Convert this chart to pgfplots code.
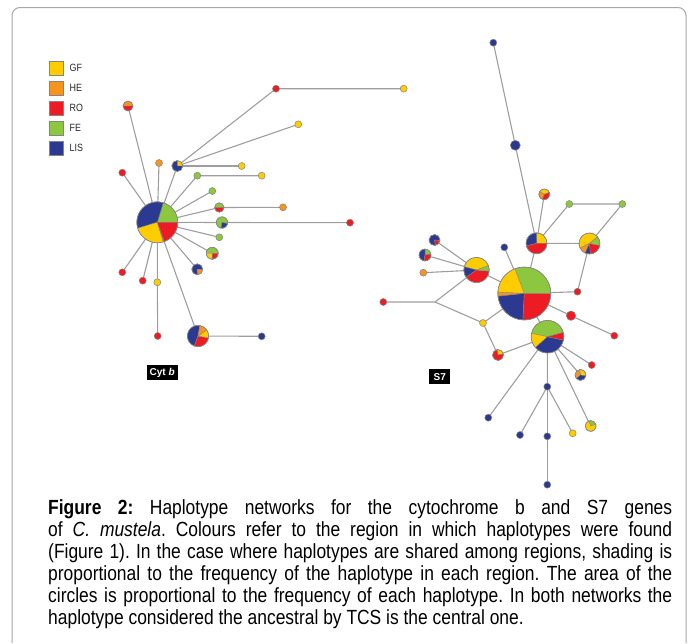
\documentclass[border=0pt]{standalone}
\usepackage{pgfplots}
\pgfplotsset{compat=1.18}
\usepackage{fontspec}
\setmainfont{Liberation Sans}
\newfontfamily\narrowfont{Liberation Sans}[FakeStretch=0.85]
\definecolor{cY}{HTML}{FFCC00}
\definecolor{cO}{HTML}{F7941E}
\definecolor{cR}{HTML}{ED1C24}
\definecolor{cG}{HTML}{8DC63F}
\definecolor{cB}{HTML}{2B3990}
\definecolor{lnc}{HTML}{9E9E9E}
\definecolor{edc}{HTML}{858585}
\definecolor{brd}{HTML}{A8A8A8}
\tikzset{wedge/.code 2 args={\def\wedgeA{#1}\def\wedgeB{#2}}}
\def\wedgeA{0}\def\wedgeB{360}
\pgfdeclareplotmark{wedge}{%
  \pgfpathmoveto{\pgfpointorigin}%
  \pgfpathlineto{\pgfpointpolar{\wedgeA}{\pgfplotmarksize}}%
  \pgfpatharc{\wedgeA}{\wedgeB}{\pgfplotmarksize}%
  \pgfpathclose
  \pgfusepathqfillstroke}
% wedge: x, y, radius, colour, from, to
\newcommand{\wdg}[6]{\addplot[only marks, mark=wedge, mark size=#3,
  mark options={wedge={#5}{#6}, fill=#4, draw=edc, line width=0.35pt}] coordinates {(#1,#2)};}
% full node: x, y, radius, colour
\newcommand{\nd}[4]{\addplot[only marks, mark=*, mark size=#3,
  mark options={fill=#4, draw=edc, line width=0.5pt}] coordinates {(#1,#2)};}
% outline ring of a pie
\newcommand{\ring}[3]{\addplot[only marks, mark=o, mark size=#3,
  mark options={draw=edc, line width=0.6pt}] coordinates {(#1,#2)};}
\pgfplotsset{edge/.style={color=lnc, line width=1.1pt, no marks}}
\begin{document}
\begin{tikzpicture}
\begin{axis}[width=694pt, height=643pt, scale only axis,
  xmin=0, xmax=694, ymin=0, ymax=643, y dir=reverse,
  hide axis, clip=false]
\path (axis cs:0,0) rectangle (axis cs:694,643);
% frame
\draw[brd, line width=1pt, rounded corners=8pt]
  (axis cs:12,643) -- (axis cs:12,7.5) -- (axis cs:686,7.5) -- (axis cs:686,643);
% ---------------- Cyt b edges
\addplot[edge] coordinates {(157.3,222.3) (128,106)};
\addplot[edge] coordinates {(157.3,222.3) (159,163)};
\addplot[edge] coordinates {(157.3,222.3) (177.3,166)};
\addplot[edge] coordinates {(177.3,166) (276,88.7) (403.7,88.7)};
\addplot[edge] coordinates {(177.3,166) (298.3,124.3)};
\addplot[edge] coordinates {(177.3,166) (241.7,166)};
\addplot[edge] coordinates {(157.3,222.3) (122.3,172.7)};
\addplot[edge] coordinates {(157.3,222.3) (197.3,175.7) (261.7,175.7)};
\addplot[edge] coordinates {(157.3,222.3) (212.3,191)};
\addplot[edge] coordinates {(157.3,222.3) (219.3,207.5) (283,207.3)};
\addplot[edge] coordinates {(157.3,222.3) (222,222.5) (350,222.7)};
\addplot[edge] coordinates {(157.3,222.3) (219.3,237.3)};
\addplot[edge] coordinates {(157.3,222.3) (212.3,253.3)};
\addplot[edge] coordinates {(157.3,222.3) (197.3,269.3)};
\addplot[edge] coordinates {(157.3,222.3) (198,336) (261.7,336.3)};
\addplot[edge] coordinates {(157.3,222.3) (157.3,282.3) (157.7,336)};
\addplot[edge] coordinates {(157.3,222.3) (142.7,280.7)};
\addplot[edge] coordinates {(157.3,222.3) (122.3,272.3)};
% ---------------- S7 edges
\addplot[edge] coordinates {(493.3,42.7) (515.3,145.3) (536.5,243.3)};
\addplot[edge] coordinates {(544.3,194.3) (536.5,243.3)};
\addplot[edge] coordinates {(536.5,243.3) (569.3,204) (622.3,204) (589.5,243.5)};
\addplot[edge] coordinates {(536.5,243.3) (589.5,243.5)};
\addplot[edge] coordinates {(536.5,243.3) (524.3,293.5)};
\addplot[edge] coordinates {(504.3,247.3) (524.3,293.5)};
\addplot[edge] coordinates {(589.5,243.5) (577.5,291.7) (524.3,293.5)};
\addplot[edge] coordinates {(434.5,240) (476.5,270)};
\addplot[edge] coordinates {(425,255) (476.5,270)};
\addplot[edge] coordinates {(423.3,272.7) (476.5,270)};
\addplot[edge] coordinates {(476.5,270) (524.3,293.5)};
\addplot[edge] coordinates {(383.3,302) (435,302) (476.5,270)};
\addplot[edge] coordinates {(435,302) (483,323) (524.3,293.5)};
\addplot[edge] coordinates {(483,323) (498,355) (547.5,336.7)};
\addplot[edge] coordinates {(524.3,293.5) (547.5,336.7)};
\addplot[edge] coordinates {(524.3,293.5) (571,315.7) (614.3,335.7)};
\addplot[edge] coordinates {(547.5,336.7) (591.7,365)};
\addplot[edge] coordinates {(547.5,336.7) (580.5,375)};
\addplot[edge] coordinates {(547.5,336.7) (590.7,426)};
\addplot[edge] coordinates {(547.5,336.7) (547.3,386.7)};
\addplot[edge] coordinates {(547.5,336.7) (488.3,417.7)};
\addplot[edge] coordinates {(547.3,386.7) (520,435)};
\addplot[edge] coordinates {(547.3,386.7) (547.3,436.3) (547.3,484.7)};
\addplot[edge] coordinates {(547.3,386.7) (572.7,433.3)};
% ---------------- Cyt b nodes
\wdg{157.3}{222.3}{20.5}{cG}{0}{73}
\wdg{157.3}{222.3}{20.5}{cB}{73}{197}
\wdg{157.3}{222.3}{20.5}{cY}{197}{287}
\wdg{157.3}{222.3}{20.5}{cO}{287}{290}
\wdg{157.3}{222.3}{20.5}{cR}{290}{360}
\ring{157.3}{222.3}{20.5}
\wdg{128}{106}{5}{cO}{0}{180}
\wdg{128}{106}{5}{cR}{180}{360}
\ring{128}{106}{5}
\nd{159}{163}{3.5}{cO}
\wdg{177.3}{166}{5.5}{cY}{0}{90}
\wdg{177.3}{166}{5.5}{cB}{90}{360}
\ring{177.3}{166}{5.5}
\nd{276}{88.7}{3.5}{cR}
\nd{403.7}{88.7}{3.5}{cY}
\nd{298.3}{124.3}{3.5}{cY}
\nd{241.7}{166}{3.5}{cY}
\nd{122.3}{172.7}{3.5}{cR}
\nd{197.3}{175.7}{3.5}{cG}
\nd{261.7}{175.7}{3.5}{cY}
\nd{212.3}{191}{3.5}{cG}
\wdg{219.3}{207.5}{4.7}{cG}{0}{180}
\wdg{219.3}{207.5}{4.7}{cR}{180}{360}
\ring{219.3}{207.5}{4.7}
\nd{283}{207.3}{3.5}{cO}
\wdg{222}{222.5}{5.7}{cG}{-10}{260}
\wdg{222}{222.5}{5.7}{cB}{260}{350}
\ring{222}{222.5}{5.7}
\nd{350}{222.7}{3.5}{cR}
\nd{219.3}{237.3}{3.5}{cG}
\wdg{212.3}{253.3}{6}{cG}{0}{180}
\wdg{212.3}{253.3}{6}{cY}{180}{268}
\wdg{212.3}{253.3}{6}{cO}{268}{274}
\wdg{212.3}{253.3}{6}{cR}{274}{360}
\ring{212.3}{253.3}{6}
\wdg{197.3}{269.3}{5.5}{cB}{-5}{275}
\wdg{197.3}{269.3}{5.5}{cO}{275}{355}
\ring{197.3}{269.3}{5.5}
\nd{122.3}{272.3}{3.5}{cR}
\nd{142.7}{280.7}{3.5}{cR}
\nd{157.3}{282.3}{3.5}{cY}
\nd{157.7}{336}{3.5}{cR}
\wdg{198}{336}{10.7}{cB}{80}{250}
\wdg{198}{336}{10.7}{cR}{250}{350}
\wdg{198}{336}{10.7}{cY}{350}{395}
\wdg{198}{336}{10.7}{cO}{35}{80}
\ring{198}{336}{10.7}
\nd{261.7}{336.3}{3.5}{cB}
% ---------------- S7 nodes
\nd{493.3}{42.7}{3.5}{cB}
\nd{515.3}{145.3}{5}{cB}
\wdg{544.3}{194.3}{5.5}{cY}{20}{150}
\wdg{544.3}{194.3}{5.5}{cO}{150}{250}
\wdg{544.3}{194.3}{5.5}{cR}{250}{380}
\ring{544.3}{194.3}{5.5}
\nd{569.3}{204}{3.5}{cG}
\nd{622.3}{204}{3.5}{cG}
\wdg{536.5}{243.3}{10.5}{cY}{0}{90}
\wdg{536.5}{243.3}{10.5}{cB}{90}{195}
\wdg{536.5}{243.3}{10.5}{cR}{195}{360}
\ring{536.5}{243.3}{10.5}
\wdg{589.5}{243.5}{10.5}{cY}{40}{205}
\wdg{589.5}{243.5}{10.5}{cO}{205}{245}
\wdg{589.5}{243.5}{10.5}{cB}{245}{275}
\wdg{589.5}{243.5}{10.5}{cR}{275}{350}
\wdg{589.5}{243.5}{10.5}{cG}{350}{400}
\ring{589.5}{243.5}{10.5}
\wdg{434.5}{240}{5.5}{cB}{-5}{280}
\wdg{434.5}{240}{5.5}{cR}{280}{355}
\ring{434.5}{240}{5.5}
\wdg{425}{255}{6}{cG}{10}{90}
\wdg{425}{255}{6}{cB}{90}{260}
\wdg{425}{255}{6}{cR}{260}{370}
\ring{425}{255}{6}
\nd{423.3}{272.7}{3.5}{cO}
\nd{504.3}{247.3}{3.5}{cB}
\wdg{476.5}{270}{12.7}{cY}{20}{165}
\wdg{476.5}{270}{12.7}{cB}{165}{215}
\wdg{476.5}{270}{12.7}{cR}{215}{355}
\wdg{476.5}{270}{12.7}{cG}{355}{380}
\ring{476.5}{270}{12.7}
\wdg{524.3}{293.5}{26.5}{cG}{0}{111}
\wdg{524.3}{293.5}{26.5}{cY}{111}{177}
\wdg{524.3}{293.5}{26.5}{cO}{177}{186}
\wdg{524.3}{293.5}{26.5}{cB}{186}{267}
\wdg{524.3}{293.5}{26.5}{cR}{267}{360}
\ring{524.3}{293.5}{26.5}
\nd{577.5}{291.7}{3.5}{cR}
\nd{571}{315.7}{4.7}{cR}
\nd{614.3}{335.7}{3.5}{cR}
\nd{383.3}{302}{3.5}{cR}
\nd{483}{323}{3.5}{cY}
\wdg{498}{355}{5.5}{cY}{10}{100}
\wdg{498}{355}{5.5}{cR}{100}{370}
\ring{498}{355}{5.5}
\wdg{547.5}{336.7}{16.3}{cG}{15}{168}
\wdg{547.5}{336.7}{16.3}{cY}{168}{222}
\wdg{547.5}{336.7}{16.3}{cB}{222}{348}
\wdg{547.5}{336.7}{16.3}{cR}{348}{375}
\ring{547.5}{336.7}{16.3}
\nd{591.7}{365}{3.5}{cR}
\wdg{580.5}{375}{5.5}{cY}{-10}{100}
\wdg{580.5}{375}{5.5}{cO}{100}{220}
\wdg{580.5}{375}{5.5}{cB}{220}{350}
\ring{580.5}{375}{5.5}
\wdg{590.7}{426}{5.5}{cG}{20}{110}
\wdg{590.7}{426}{5.5}{cY}{110}{380}
\ring{590.7}{426}{5.5}
\nd{547.3}{386.7}{3.5}{cB}
\nd{488.3}{417.7}{3.5}{cB}
\nd{520}{435}{3.5}{cB}
\nd{547.3}{436.3}{3.5}{cB}
\nd{572.7}{433.3}{3.5}{cY}
\nd{547.3}{484.7}{3.5}{cB}
% ---------------- legend
\addplot[only marks, mark=square*, mark size=7, mark options={fill=cY, draw=edc, line width=0.5pt}] coordinates {(56,68)};
\addplot[only marks, mark=square*, mark size=7, mark options={fill=cO, draw=edc, line width=0.5pt}] coordinates {(56,88)};
\addplot[only marks, mark=square*, mark size=7, mark options={fill=cR, draw=edc, line width=0.5pt}] coordinates {(56,108)};
\addplot[only marks, mark=square*, mark size=7, mark options={fill=cG, draw=edc, line width=0.5pt}] coordinates {(56,128)};
\addplot[only marks, mark=square*, mark size=7, mark options={fill=cB, draw=edc, line width=0.5pt}] coordinates {(56,148)};
\begin{scope}[every node/.style={anchor=west, inner sep=0pt, font=\narrowfont\fontsize{10.5}{12}\selectfont, text=black!85}]
\node at (axis cs:69.5,68) {GF};
\node at (axis cs:69.5,88) {HE};
\node at (axis cs:69.5,108) {RO};
\node at (axis cs:69.5,128) {FE};
\node at (axis cs:69.5,148) {LIS};
\end{scope}
% ---------------- labels
\node[fill=black, text=white, inner sep=0pt, minimum width=31pt, minimum height=15pt,
  font=\bfseries\fontsize{10}{12}\selectfont] at (axis cs:162.2,372.5) {Cyt \textit{b}};
\node[fill=black, text=white, inner sep=0pt, minimum width=21pt, minimum height=15pt,
  font=\bfseries\fontsize{10}{12}\selectfont] at (axis cs:439.7,376.7) {S7};
% ---------------- caption
\node[anchor=base west, inner sep=0pt] at (axis cs:48,514) {\parbox[t]{624pt}{%
  \narrowfont\fontsize{20.5}{22}\selectfont\hyphenpenalty=10000\frenchspacing
  \textbf{Figure 2:} Haplotype networks for the cytochrome b and S7 genes\linebreak
  of \textit{C. mustela}. Colours refer to the region in which haplotypes were found\linebreak
  (Figure 1). In the case where haplotypes are shared among regions, shading is\linebreak
  proportional to the frequency of the haplotype in each region. The area of the\linebreak
  circles is proportional to the frequency of each haplotype. In both networks the\linebreak
  haplotype considered the ancestral by TCS is the central one.}};
\end{axis}
\end{tikzpicture}
\end{document}
